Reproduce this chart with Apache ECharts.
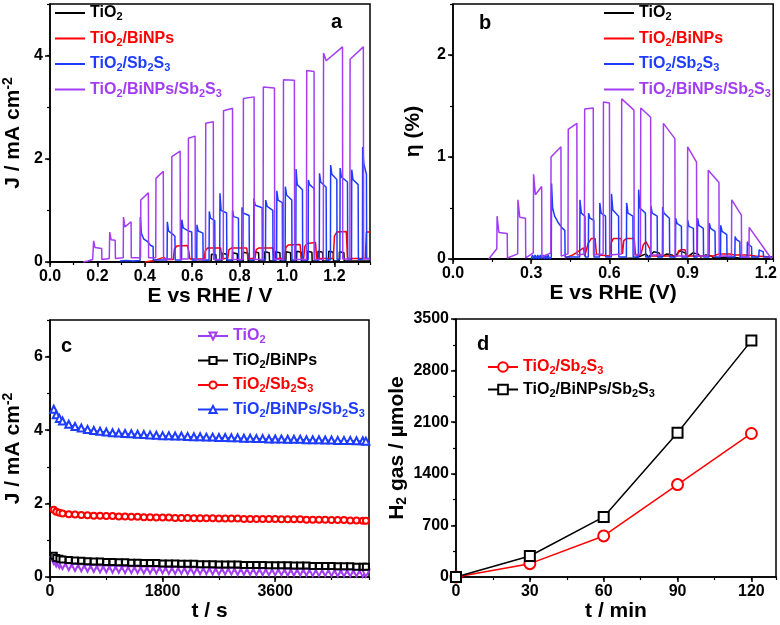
<!DOCTYPE html>
<html>
<head>
<meta charset="utf-8">
<script src="https://cdn.jsdelivr.net/npm/echarts@6/dist/echarts.min.js"></script>
<style>html,body{margin:0;padding:0;background:#fff;}#c{width:780px;height:625px;}</style>
</head>
<body>
<div id="c"></div>
<script>
// ---------- Panel a : J vs E (chopped light) ----------
const aTiO2 = [[0.0,0],[0.6,0.01],[0.68,0.02],[0.681,0.15],[0.7,0.14],[0.701,0.02],[0.725,0.02],[0.726,0.17],[0.745,0.15],[0.746,0.02],[0.77,0.02],[0.771,0.18],[0.79,0.16],[0.791,0.02],[0.815,0.02],[0.816,0.19],[0.835,0.17],[0.836,0.02],[0.86,0.02],[0.861,0.2],[0.88,0.18],[0.881,0.02],[0.905,0.02],[0.906,0.2],[0.925,0.18],[0.926,0.02],[0.95,0.02],[0.951,0.2],[0.97,0.18],[0.971,0.02],[0.995,0.02],[0.996,0.2],[1.015,0.18],[1.016,0.02],[1.04,0.02],[1.041,0.21],[1.06,0.19],[1.061,0.02],[1.085,0.02],[1.086,0.21],[1.105,0.19],[1.106,0.02],[1.13,0.02],[1.131,0.21],[1.15,0.19],[1.151,0.02],[1.175,0.02],[1.176,0.21],[1.195,0.19],[1.196,0.02],[1.22,0.02],[1.221,0.2],[1.24,0.18],[1.241,0.02],[1.35,0.02]];
const aBiNPs = [[0.4,0.0],[0.44,0.03],[0.46,0.06],[0.48,0.09],[0.49,0.05],[0.52,0.05],[0.525,0.25],[0.535,0.31],[0.58,0.32],[0.585,0.22],[0.59,0.06],[0.65,0.06],[0.655,0.22],[0.665,0.27],[0.72,0.27],[0.725,0.07],[0.75,0.07],[0.755,0.24],[0.765,0.27],[0.83,0.27],[0.835,0.07],[0.865,0.07],[0.87,0.24],[0.88,0.27],[0.94,0.27],[0.945,0.07],[0.99,0.07],[0.995,0.28],[1.005,0.33],[1.055,0.34],[1.06,0.07],[1.07,0.07],[1.075,0.3],[1.085,0.36],[1.12,0.38],[1.125,0.07],[1.195,0.07],[1.2,0.5],[1.21,0.58],[1.25,0.59],[1.255,0.07],[1.33,0.07],[1.335,0.58],[1.35,0.58]];
const aSb2S3 = [[0.295,0.02],[0.32,0.03],[0.35,0.02],[0.38,0.03],[0.381,0.87],[0.386,0.55],[0.395,0.45],[0.41,0.4],[0.425,0.32],[0.435,0.3],[0.436,0.04],[0.494,0.04],[0.495,0.78],[0.5,0.6],[0.515,0.55],[0.527,0.5],[0.528,0.04],[0.555,0.04],[0.556,0.82],[0.562,0.66],[0.585,0.6],[0.598,0.58],[0.599,0.04],[0.619,0.04],[0.62,0.72],[0.625,0.6],[0.645,0.56],[0.646,0.04],[0.671,0.04],[0.672,0.98],[0.677,0.85],[0.695,0.8],[0.696,0.04],[0.716,0.04],[0.717,1.33],[0.722,1.0],[0.745,0.95],[0.746,0.04],[0.769,0.04],[0.77,1.0],[0.775,0.88],[0.795,0.85],[0.796,0.04],[0.809,0.04],[0.81,1.06],[0.815,0.95],[0.84,0.9],[0.841,0.04],[0.859,0.04],[0.86,1.23],[0.866,1.1],[0.895,1.05],[0.896,0.04],[0.909,0.04],[0.91,1.2],[0.916,1.08],[0.94,1.0],[0.941,0.04],[0.956,0.04],[0.957,1.38],[0.962,1.2],[0.98,1.15],[0.981,0.04],[0.992,0.04],[0.993,1.46],[0.998,1.3],[1.02,1.2],[1.021,0.04],[1.037,0.04],[1.038,1.8],[1.043,1.5],[1.065,1.4],[1.066,0.04],[1.089,0.04],[1.09,1.59],[1.095,1.5],[1.115,1.42],[1.116,0.04],[1.136,0.04],[1.137,1.72],[1.142,1.55],[1.165,1.45],[1.166,0.04],[1.183,0.04],[1.184,1.88],[1.189,1.7],[1.21,1.6],[1.211,0.05],[1.223,0.05],[1.224,1.82],[1.229,1.65],[1.255,1.55],[1.256,0.05],[1.272,0.05],[1.273,1.79],[1.278,1.6],[1.3,1.5],[1.301,0.05],[1.318,0.05],[1.319,2.23],[1.324,1.9],[1.335,1.7],[1.336,0.07],[1.35,0.07]];
const aBiNPsSb2S3 = [[0.14,0],[0.16,0.02],[0.18,0.05],[0.183,0.05],[0.184,0.41],[0.19,0.28],[0.218,0.26],[0.219,0.05],[0.25,0.07],[0.251,0.07],[0.252,0.58],[0.258,0.43],[0.275,0.42],[0.276,0.07],[0.309,0.08],[0.31,0.87],[0.316,0.68],[0.342,0.78],[0.343,0.08],[0.382,0.08],[0.383,1.2],[0.415,1.34],[0.416,0.08],[0.446,0.08],[0.447,1.62],[0.478,1.76],[0.479,0.06],[0.513,0.06],[0.514,2.04],[0.549,2.15],[0.55,0.06],[0.583,0.06],[0.584,2.4],[0.612,2.44],[0.613,0.05],[0.656,0.05],[0.657,2.69],[0.689,2.72],[0.69,0.05],[0.731,0.05],[0.732,2.93],[0.77,2.98],[0.771,0.05],[0.815,0.05],[0.816,3.17],[0.861,3.2],[0.862,0.05],[0.899,0.05],[0.9,3.39],[0.947,3.37],[0.948,0.05],[0.984,0.05],[0.985,3.53],[1.031,3.52],[1.032,0.05],[1.082,0.05],[1.083,3.71],[1.114,3.69],[1.115,0.05],[1.153,0.05],[1.154,4.05],[1.165,3.9],[1.234,4.17],[1.235,0.06],[1.265,0.06],[1.266,3.93],[1.322,4.17],[1.323,0.06],[1.35,0.06]];

// ---------- Panel b : efficiency vs E ----------
const bTiO2 = [[0.0,0.0],[0.6,0.0],[0.7,0.01],[0.72,0.03],[0.74,0.05],[0.75,0.02],[0.77,0.07],[0.79,0.06],[0.8,0.02],[0.82,0.05],[0.84,0.04],[0.85,0.02],[0.87,0.08],[0.89,0.06],[0.9,0.02],[0.92,0.06],[0.94,0.05],[0.95,0.02],[0.97,0.04],[0.99,0.03],[1.0,0.01],[1.05,0.02],[1.1,0.01],[1.225,0.0]];
const bBiNPs = [[0.43,0.01],[0.46,0.04],[0.49,0.09],[0.5,0.11],[0.505,0.03],[0.512,0.03],[0.518,0.15],[0.53,0.2],[0.545,0.2],[0.55,0.05],[0.56,0.04],[0.6,0.03],[0.607,0.16],[0.615,0.2],[0.645,0.2],[0.65,0.05],[0.655,0.18],[0.665,0.2],[0.695,0.2],[0.7,0.04],[0.72,0.04],[0.73,0.14],[0.74,0.17],[0.755,0.1],[0.76,0.03],[0.86,0.03],[0.865,0.08],[0.875,0.09],[0.89,0.09],[0.895,0.03],[1.0,0.03],[1.02,0.05],[1.06,0.05],[1.08,0.04],[1.13,0.04],[1.16,0.03],[1.225,0.02]];
const bSb2S3 = [[0.3,0.0],[0.305,0.04],[0.31,0.0],[0.315,0.04],[0.32,0.0],[0.325,0.04],[0.33,0.0],[0.335,0.04],[0.34,0.0],[0.345,0.04],[0.35,0.0],[0.355,0.04],[0.36,0.0],[0.365,0.04],[0.37,0.0],[0.377,0.02],[0.378,0.74],[0.382,0.5],[0.39,0.42],[0.405,0.35],[0.42,0.3],[0.429,0.28],[0.43,0.02],[0.486,0.02],[0.487,0.58],[0.492,0.45],[0.506,0.42],[0.507,0.02],[0.519,0.02],[0.52,0.45],[0.525,0.4],[0.54,0.38],[0.541,0.02],[0.562,0.02],[0.563,0.55],[0.568,0.45],[0.585,0.42],[0.586,0.02],[0.607,0.02],[0.608,0.64],[0.613,0.48],[0.635,0.42],[0.636,0.02],[0.665,0.02],[0.666,0.55],[0.671,0.45],[0.69,0.42],[0.691,0.02],[0.711,0.02],[0.712,0.68],[0.717,0.5],[0.738,0.45],[0.739,0.02],[0.758,0.02],[0.759,0.52],[0.764,0.45],[0.783,0.42],[0.784,0.02],[0.803,0.02],[0.804,0.51],[0.809,0.45],[0.83,0.4],[0.831,0.02],[0.853,0.02],[0.854,0.4],[0.859,0.35],[0.876,0.32],[0.877,0.02],[0.899,0.02],[0.9,0.38],[0.905,0.32],[0.922,0.3],[0.923,0.02],[0.937,0.02],[0.938,0.4],[0.943,0.33],[0.96,0.3],[0.961,0.02],[0.982,0.02],[0.983,0.35],[0.988,0.3],[1.005,0.27],[1.006,0.02],[1.026,0.02],[1.027,0.33],[1.032,0.27],[1.05,0.24],[1.051,0.02],[1.081,0.02],[1.082,0.22],[1.087,0.19],[1.1,0.17],[1.101,0.02],[1.128,0.02],[1.129,0.17],[1.134,0.14],[1.145,0.12],[1.146,0.02],[1.173,0.02],[1.174,0.09],[1.18,0.08],[1.19,0.07],[1.191,0.02],[1.225,0.02]];
const bBiNPsSb2S3 = [[0.137,0],[0.168,0.1],[0.169,0.42],[0.176,0.26],[0.208,0.25],[0.209,0.01],[0.248,0.05],[0.249,0.58],[0.256,0.41],[0.278,0.4],[0.279,0.01],[0.308,0.06],[0.309,0.83],[0.316,0.63],[0.34,0.71],[0.341,0.02],[0.375,0.06],[0.376,1.0],[0.414,1.1],[0.415,0.03],[0.441,0.05],[0.442,1.27],[0.475,1.33],[0.476,0.04],[0.504,0.05],[0.505,1.47],[0.538,1.48],[0.539,0.04],[0.576,0.05],[0.577,1.54],[0.6,1.53],[0.601,0.04],[0.646,0.05],[0.647,1.57],[0.694,1.46],[0.695,0.04],[0.719,0.05],[0.72,1.48],[0.758,1.39],[0.759,0.04],[0.806,0.04],[0.807,1.33],[0.851,1.18],[0.852,0.03],[0.899,0.03],[0.9,1.1],[0.934,0.95],[0.935,0.03],[0.978,0.03],[0.979,0.87],[1.02,0.75],[1.021,0.03],[1.068,0.03],[1.069,0.58],[1.106,0.43],[1.107,0.02],[1.135,0.02],[1.136,0.31],[1.222,0.0]];

// ---------- Panel c : J vs t ----------
const cTime = [60,100,150,200,300,400,500,600,700,800,
  900,1000,1100,1200,1300,1400,1500,1600,1700,1800,
  1900,2000,2100,2200,2300,2400,2500,2600,2700,2800,
  2900,3000,3100,3200,3300,3400,3500,3600,3700,3800,
  3900,4000,4100,4200,4300,4400,4500,4600,4700,4800,
  4900,5000,5050];
const cTiO2 = [0.45,0.38,0.34,0.31,0.28,0.26,0.25,0.24,0.23,0.22,
  0.22,0.21,0.21,0.20,0.20,0.20,0.19,0.19,0.19,0.19,
  0.18,0.18,0.18,0.17,0.17,0.17,0.17,0.16,0.16,0.16,
  0.16,0.15,0.15,0.15,0.15,0.14,0.14,0.14,0.14,0.13,
  0.13,0.13,0.13,0.12,0.12,0.12,0.12,0.11,0.11,0.11,
  0.11,0.10,0.10];
const cBiNPs = [0.58,0.52,0.50,0.48,0.46,0.45,0.44,0.43,0.42,0.42,
  0.41,0.41,0.40,0.40,0.39,0.39,0.38,0.38,0.38,0.37,
  0.37,0.37,0.36,0.36,0.36,0.35,0.35,0.35,0.34,0.34,
  0.34,0.34,0.33,0.33,0.33,0.33,0.32,0.32,0.32,0.32,
  0.31,0.31,0.31,0.30,0.30,0.30,0.30,0.29,0.29,0.29,
  0.28,0.28,0.28];
const cSb2S3 = [1.83,1.78,1.75,1.73,1.71,1.70,1.69,1.68,1.67,1.67,
  1.66,1.66,1.65,1.65,1.64,1.64,1.63,1.63,1.62,1.62,
  1.62,1.61,1.61,1.61,1.60,1.60,1.60,1.60,1.59,1.59,
  1.59,1.59,1.58,1.58,1.58,1.58,1.58,1.58,1.57,1.57,
  1.57,1.57,1.56,1.56,1.56,1.56,1.55,1.55,1.55,1.54,
  1.54,1.53,1.53];
const cBiNPsSb2S3 = [4.57,4.42,4.32,4.25,4.16,4.10,4.06,4.02,3.99,3.97,
  3.95,3.93,3.92,3.91,3.90,3.89,3.88,3.87,3.86,3.85,
  3.85,3.84,3.84,3.83,3.82,3.82,3.81,3.81,3.80,3.80,
  3.79,3.79,3.78,3.78,3.77,3.77,3.76,3.76,3.76,3.75,
  3.75,3.75,3.74,3.74,3.74,3.73,3.73,3.72,3.72,3.72,
  3.71,3.71,3.70];

// ---------- Panel d : H2 gas vs t ----------
const dTime = [0,30,60,90,120];
const dSb2S3 = [0,181,557,1254,1947];
const dBiNPsSb2S3 = [0,285,815,1957,3207];

// ---------- labels ----------
const legendLabels = {
  a1:'TiO{s|2}', a2:'TiO{s|2}/BiNPs', a3:'TiO{s|2}/Sb{s|2}S{s|3}', a4:'TiO{s|2}/BiNPs/Sb{s|2}S{s|3}',
  b1:'TiO{s|2}', b2:'TiO{s|2}/BiNPs', b3:'TiO{s|2}/Sb{s|2}S{s|3}', b4:'TiO{s|2}/BiNPs/Sb{s|2}S{s|3}',
  c1:'TiO{s|2}', c2:'TiO{s|2}/BiNPs', c3:'TiO{s|2}/Sb{s|2}S{s|3}', c4:'TiO{s|2}/BiNPs/Sb{s|2}S{s|3}',
  d1:'TiO{s|2}/Sb{s|2}S{s|3}', d2:'TiO{s|2}/BiNPs/Sb{s|2}S{s|3}'
};
const panelLetters = ['a','b','c','d'];

const FONT = '"Liberation Sans", Arial, Helvetica, sans-serif';
const BLACK = '#000000', RED = '#ff0000', BLUE = '#1e3cff', PURPLE = '#a33df2';

const richSub = { s: { fontSize: 11, fontWeight: 'bold', fontFamily: FONT, padding: [8, 0, 0, 0] } };
const nameRich = {
  sup: { fontSize: 14, fontWeight: 'bold', fontFamily: FONT, padding: [0, 0, 11, 0] },
  sub: { fontSize: 14, fontWeight: 'bold', fontFamily: FONT, padding: [11, 0, 0, 0] }
};

function majorAxis(grid, min, max, interval, dec, name, nameGap, pos) {
  return {
    type: 'value', gridIndex: grid, min: min, max: max, interval: interval, position: pos,
    name: name, nameLocation: 'middle', nameGap: nameGap,
    nameTextStyle: { fontSize: 21, fontWeight: 'bold', color: BLACK, fontFamily: FONT, rich: nameRich },
    axisLine: { show: true, onZero: false, lineStyle: { color: BLACK, width: 1.5 } },
    axisTick: { show: true, inside: false, length: 5, lineStyle: { color: BLACK, width: 1.5 } },
    axisLabel: { show: true, margin: 7, fontSize: 16, fontWeight: 'bold', color: BLACK, fontFamily: FONT,
      showMaxLabel: false, formatter: function (v) { return v.toFixed(dec); } },
    splitLine: { show: false }
  };
}
function minorAxis(grid, min, max, interval, pos) {
  return {
    type: 'value', gridIndex: grid, min: min, max: max, interval: interval, position: pos,
    axisLine: { show: false, onZero: false },
    axisTick: { show: true, inside: false, length: 3, lineStyle: { color: BLACK, width: 1.2 } },
    axisLabel: { show: false }, splitLine: { show: false }
  };
}

const xAxes = [
  majorAxis(0, 0, 1.35, 0.2, 1, 'E vs RHE / V', 15, 'bottom'), minorAxis(0, 0, 1.35, 0.1, 'bottom'),
  majorAxis(1, 0, 1.228, 0.3, 1, 'E vs RHE (V)', 15, 'bottom'), minorAxis(1, 0, 1.228, 0.15, 'bottom'),
  majorAxis(2, 0, 5100, 1800, 0, 't / s', 19, 'bottom'), minorAxis(2, 0, 5100, 900, 'bottom'),
  majorAxis(3, 0, 130, 30, 0, 't / min', 23, 'bottom'), minorAxis(3, 0, 130, 15, 'bottom')
];
const yAxes = [
  majorAxis(0, 0, 5, 2, 0, 'J / mA cm{sup|-2}', 24, 'left'), minorAxis(0, 0, 5, 1, 'left'),
  majorAxis(1, 0, 2.5, 1, 0, 'η (%)', 29, 'left'), minorAxis(1, 0, 2.5, 0.5, 'left'),
  majorAxis(2, 0, 7, 2, 0, 'J / mA cm{sup|-2}', 24, 'left'), minorAxis(2, 0, 7, 1, 'left'),
  majorAxis(3, 0, 3500, 700, 0, 'H{sub|2} gas / µmole', 44, 'left'), minorAxis(3, 0, 3500, 350, 'left')
];
yAxes[6].axisLabel.showMaxLabel = true;

function lineSeries(name, data, color, ax) {
  return { name: name, type: 'line', data: data, xAxisIndex: ax, yAxisIndex: ax,
    showSymbol: false, symbol: 'none', silent: true,
    lineStyle: { color: color, width: 1.5 }, itemStyle: { color: color } };
}
function zip(xs, ys) { return xs.map(function (x, i) { return [x, ys[i]]; }); }
function markSeries(name, data, color, ax, symbol, size, rot, lw) {
  return { name: name, type: 'line', data: data, xAxisIndex: ax, yAxisIndex: ax,
    showSymbol: true, symbol: symbol, symbolSize: size, symbolRotate: rot, silent: true,
    lineStyle: { color: color, width: lw }, itemStyle: { color: color, borderWidth: 1.2 } };
}

const series = [
  lineSeries('a1', aTiO2, BLACK, 0), lineSeries('a2', aBiNPs, RED, 0),
  lineSeries('a3', aSb2S3, BLUE, 0), lineSeries('a4', aBiNPsSb2S3, PURPLE, 0),
  lineSeries('b1', bTiO2, BLACK, 2), lineSeries('b2', bBiNPs, RED, 2),
  lineSeries('b3', bSb2S3, BLUE, 2), lineSeries('b4', bBiNPsSb2S3, PURPLE, 2),
  markSeries('c1', zip(cTime, cTiO2), PURPLE, 4, 'emptyTriangle', 7, 180, 1),
  markSeries('c2', zip(cTime, cBiNPs), BLACK, 4, 'emptyRect', 6, 0, 1),
  markSeries('c3', zip(cTime, cSb2S3), RED, 4, 'emptyCircle', 6, 0, 1),
  markSeries('c4', zip(cTime, cBiNPsSb2S3), BLUE, 4, 'emptyTriangle', 7, 0, 1),
  markSeries('d1', zip(dTime, dSb2S3), RED, 6, 'emptyCircle', 11, 0, 1.5),
  markSeries('d2', zip(dTime, dBiNPsSb2S3), BLACK, 6, 'emptyRect', 10, 0, 1.5)
];

function legendData(names, colors) {
  return names.map(function (n, i) { return { name: n, textStyle: { color: colors[i] } }; });
}
function legend(names, colors, left, top, gap, lineOnly, ih) {
  const l = {
    orient: 'vertical', left: left, top: top, itemGap: gap, itemWidth: 30, itemHeight: ih,
    selectedMode: false, padding: 0,
    data: legendData(names, colors),
    formatter: function (n) { return legendLabels[n]; },
    textStyle: { fontSize: 16, fontWeight: 'bold', fontFamily: FONT, rich: richSub, padding: [0, 0, 0, 0] }
  };
  if (lineOnly) { l.icon = 'rect'; }
  return l;
}

const letterGraphics = [
  { type: 'text', left: 331, top: 12, style: { text: panelLetters[0], font: 'bold 20px ' + FONT, fill: BLACK } },
  { type: 'text', left: 479, top: 13, style: { text: panelLetters[1], font: 'bold 20px ' + FONT, fill: BLACK } },
  { type: 'text', left: 61, top: 336, style: { text: panelLetters[2], font: 'bold 20px ' + FONT, fill: BLACK } },
  { type: 'text', left: 477, top: 334, style: { text: panelLetters[3], font: 'bold 20px ' + FONT, fill: BLACK } }
];

const chart = echarts.init(document.getElementById('c'), null, { renderer: 'canvas' });
chart.setOption({
  animation: false,
  backgroundColor: '#ffffff',
  grid: [
    { left: 48, top: 4, width: 322, height: 258, show: true, borderColor: BLACK, borderWidth: 1.5 },
    { left: 453, top: 4, width: 323, height: 255, show: true, borderColor: BLACK, borderWidth: 1.5 },
    { left: 47, top: 320, width: 322, height: 257, show: true, borderColor: BLACK, borderWidth: 1.5 },
    { left: 456, top: 319, width: 320, height: 258, show: true, borderColor: BLACK, borderWidth: 1.5 }
  ],
  xAxis: xAxes,
  yAxis: yAxes,
  legend: [
    legend(['a1','a2','a3','a4'], [BLACK, RED, BLUE, PURPLE], 55, 5, 8, true, 2),
    legend(['b1','b2','b3','b4'], [BLACK, RED, BLUE, PURPLE], 604, 5, 8, true, 2),
    legend(['c1','c2','c3','c4'], [PURPLE, BLACK, RED, BLUE], 197, 328, 7, false, 9),
    legend(['d1','d2'], [RED, BLACK], 487, 359, 5, false, 12)
  ],
  graphic: letterGraphics,
  series: series
});
</script>
</body>
</html>
